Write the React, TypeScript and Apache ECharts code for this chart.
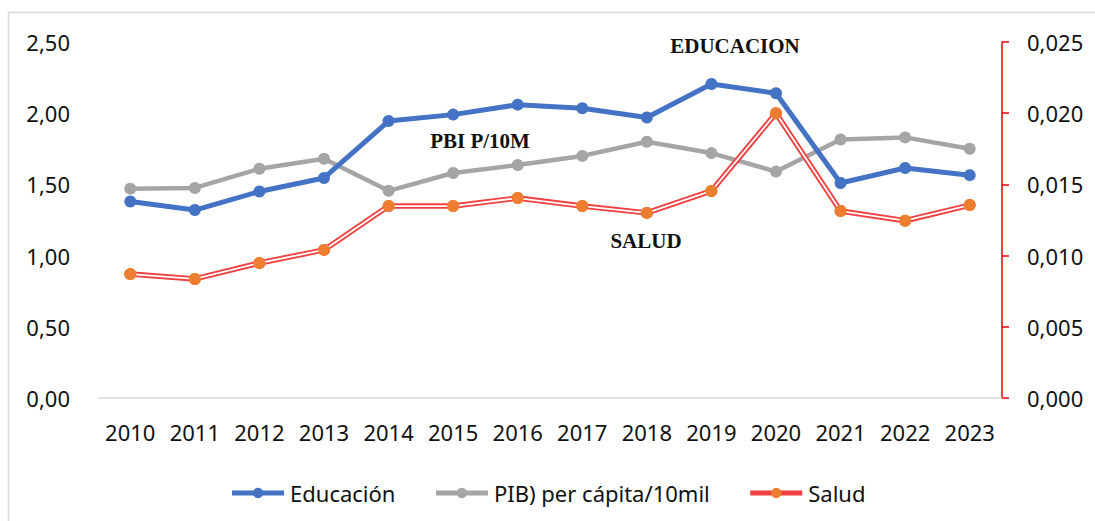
import React, { useEffect, useRef } from "react";
import * as echarts from "echarts";

const years = ["2010", "2011", "2012", "2013", "2014", "2015", "2016", "2017", "2018", "2019", "2020", "2021", "2022", "2023"];
const educacion = [1.38, 1.32, 1.45, 1.545, 1.945, 1.99, 2.06, 2.035, 1.97, 2.205, 2.14, 1.51, 1.615, 1.565];
const pib = [1.47, 1.475, 1.61, 1.68, 1.455, 1.58, 1.636, 1.70, 1.80, 1.72, 1.59, 1.815, 1.83, 1.75];
const salud = [0.0087, 0.00836, 0.00948, 0.0104, 0.01348, 0.01348, 0.01404, 0.01348, 0.0130, 0.01454, 0.0200, 0.01313, 0.01245, 0.01355];
const leftTicks = [0, 0.5, 1.0, 1.5, 2.0, 2.5];
const rightTicks = [0, 0.005, 0.01, 0.015, 0.02, 0.025];

const FONT = "'Noto Sans', sans-serif";
const FS = 22;

export default function App() {
  const ref = useRef<HTMLDivElement>(null);
  useEffect(() => {
    if (!ref.current) return;
    const chart = echarts.init(ref.current, null, { renderer: "svg" });
    chart.setOption({
      animation: false,
      backgroundColor: "#ffffff",
      grid: { left: 98, right: 93, top: 42, bottom: 123 },
      xAxis: {
        type: "category",
        data: years,
        boundaryGap: true,
        axisLine: { show: true, lineStyle: { color: "#d9d9d9", width: 1.5 } },
        axisTick: { show: false },
        axisLabel: { color: "#111", fontSize: FS, fontFamily: FONT, margin: 23, interval: 0, hideOverlap: false },
      },
      yAxis: [
        {
          type: "value",
          min: leftTicks[0],
          max: leftTicks[leftTicks.length - 1],
          interval: 0.5,
          splitLine: { show: false },
          axisLine: { show: false },
          axisTick: { show: false },
          axisLabel: {
            color: "#111",
            fontSize: FS,
            fontFamily: FONT,
            margin: 28,
            formatter: (v: number) => v.toFixed(2).replace(".", ","),
          },
        },
        {
          type: "value",
          position: "right",
          min: rightTicks[0],
          max: rightTicks[rightTicks.length - 1],
          interval: 0.005,
          splitLine: { show: false },
          axisLine: { show: true, lineStyle: { color: "#ff0000", width: 1.5 } },
          axisTick: { show: true, inside: false, length: 7, lineStyle: { color: "#ff0000", width: 1.5 } },
          axisLabel: {
            color: "#111",
            fontSize: FS,
            fontFamily: FONT,
            margin: 25,
            formatter: (v: number) => v.toFixed(3).replace(".", ","),
          },
        },
      ],
      legend: {
        bottom: 12,
        left: "center",
        data: [
          { name: "Educación", lineStyle: { width: 5 } },
          { name: "PIB) per cápita/10mil", lineStyle: { width: 5 } },
          { name: "Salud", lineStyle: { width: 5 } },
        ],
        itemWidth: 52,
        itemHeight: 13,
        itemGap: 38,
        textStyle: { color: "#111", fontSize: FS, fontFamily: FONT, padding: [0, 0, 0, 1] },
      },
      series: [
        {
          name: "Educación",
          type: "line",
          data: educacion,
          yAxisIndex: 0,
          symbol: "circle",
          symbolSize: 12,
          lineStyle: { color: "#4472C4", width: 5 },
          itemStyle: { color: "#4472C4" },
          z: 3,
        },
        {
          name: "PIB) per cápita/10mil",
          type: "line",
          data: pib,
          yAxisIndex: 0,
          symbol: "circle",
          symbolSize: 12,
          lineStyle: { color: "#A5A5A5", width: 4.5 },
          itemStyle: { color: "#A5A5A5" },
          z: 2,
        },
        {
          name: "Salud",
          type: "line",
          data: salud,
          yAxisIndex: 1,
          symbol: "circle",
          symbolSize: 12,
          lineStyle: { color: "#f04040", width: 5.5 },
          itemStyle: { color: "#ED7D31" },
          z: 4,
        },
        {
          name: "Salud-inner",
          type: "line",
          data: salud,
          yAxisIndex: 1,
          symbol: "circle",
          symbolSize: 12,
          lineStyle: { color: "#ffffff", width: 1.8 },
          itemStyle: { color: "#ED7D31" },
          z: 5,
        },
      ],
      graphic: [
        {
          type: "polyline",
          shape: { points: [[8.5, 521], [8.5, 12.5], [1095, 12.5]] },
          style: { stroke: "#d9d9d9", lineWidth: 1.5, fill: null },
          silent: true,
        },
        {
          type: "text",
          x: 735,
          y: 46,
          style: { text: "EDUCACION", font: "bold 21px 'Liberation Serif', serif", fill: "#111", textAlign: "center", textVerticalAlign: "middle" },
        },
        {
          type: "text",
          x: 480,
          y: 141,
          style: { text: "PBI P/10M", font: "bold 21px 'Liberation Serif', serif", fill: "#111", textAlign: "center", textVerticalAlign: "middle" },
        },
        {
          type: "text",
          x: 646,
          y: 241,
          style: { text: "SALUD", font: "bold 21px 'Liberation Serif', serif", fill: "#111", textAlign: "center", textVerticalAlign: "middle" },
        },
      ],
    });
    return () => chart.dispose();
  }, []);
  return <div ref={ref} style={{ position: "fixed", left: 0, top: 0, width: 1095, height: 521 }} />;
}
